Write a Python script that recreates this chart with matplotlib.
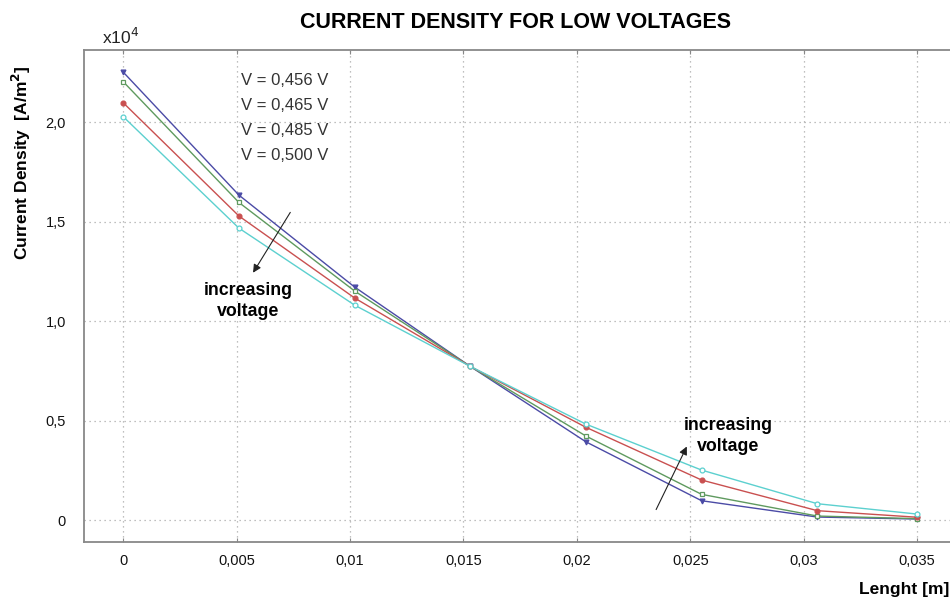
import numpy as np
import matplotlib
matplotlib.use("Agg")
import matplotlib.pyplot as plt

plt.rcParams['font.family'] = ['Liberation Sans', 'DejaVu Sans']

# distance along the channel [m]
length_m = [0, 0.0051, 0.0102, 0.0153, 0.0204, 0.0255, 0.0306, 0.035]

# current density in units of 1e4 A/m^2
j_0456 = [2.251, 1.633, 1.171, 0.772, 0.393, 0.097, 0.015, 0.005]
j_0465 = [2.203, 1.596, 1.151, 0.772, 0.422, 0.129, 0.020, 0.007]
j_0485 = [2.097, 1.528, 1.116, 0.772, 0.466, 0.201, 0.047, 0.014]
j_0500 = [2.027, 1.467, 1.080, 0.772, 0.482, 0.251, 0.082, 0.030]

voltage_labels = ['V = 0,456 V', 'V = 0,465 V', 'V = 0,485 V', 'V = 0,500 V']

x_ticks = [0, 0.005, 0.01, 0.015, 0.02, 0.025, 0.03, 0.035]
x_ticklabels = ['0', '0,005', '0,01', '0,015', '0,02', '0,025', '0,03', '0,035']
y_ticks = [0, 0.5, 1.0, 1.5, 2.0]
y_ticklabels = ['0', '0,5', '1,0', '1,5', '2,0']

fig = plt.figure(figsize=(9.5, 5.97), dpi=100)
ax = fig.add_axes([0.0884, 0.0926, 0.9116, 0.8236])

styles = [
    (j_0456, '#4b4ba6', 'v', True),
    (j_0465, '#5f9a5f', 's', False),
    (j_0485, '#c95050', 'o', True),
    (j_0500, '#5cd0cf', 'o', False),
]
for vals, col, mk, filled in styles:
    ax.plot(length_m, vals, color=col, lw=1.0, marker=mk, ms=3.5,
            mfc=col if filled else 'white', mec=col, mew=0.9)

ax.set_xlim(-0.00173, 0.03645)
ax.set_ylim(-0.109, 2.362)
ax.set_xticks(x_ticks)
ax.set_xticklabels(x_ticklabels)
ax.set_yticks(y_ticks)
ax.set_yticklabels(y_ticklabels)
ax.tick_params(axis='both', labelsize=10.5, colors='#111111', length=3,
               direction='in', top=True)
ax.tick_params(axis='x', color='#888888', pad=9)
ax.tick_params(axis='y', length=0, pad=13)

ax.grid(True, ls=(0, (1, 3)), color='#aaaaaa', lw=0.9)
for side in ['left', 'bottom', 'top']:
    ax.spines[side].set_color('#888888')
    ax.spines[side].set_linewidth(1.3)
ax.spines['right'].set_visible(False)

fig.text(0.543, 0.963, 'CURRENT DENSITY FOR LOW VOLTAGES', ha='center',
         va='center', fontsize=15.5, fontweight='bold')
fig.text(0.127, 0.938, 'x10$^4$', ha='center', va='center', fontsize=12.5,
         color='#222222')
fig.text(0.023, 0.727, 'Current Density  [A/m$^\\mathbf{2}$]', rotation=90,
         ha='center', va='center', fontsize=12.5, fontweight='bold')
fig.text(0.999, 0.0, 'Lenght [m]', ha='right', va='bottom', fontsize=12.5,
         fontweight='bold')

for i, lab in enumerate(voltage_labels):
    ax.text(0.00713, 2.211 - i * 0.1256, lab, ha='center', va='center',
            fontsize=12, color='#333333')

ax.annotate('', xy=(0.00566, 1.231), xytext=(0.00743, 1.558),
            arrowprops=dict(arrowstyle='-|>', color='#222222', lw=0.8,
                            mutation_scale=12))
ax.text(0.0055, 1.10, 'increasing\nvoltage', ha='center', va='center',
        fontsize=12.8, fontweight='bold', linespacing=1.3)

ax.annotate('', xy=(0.0249, 0.382), xytext=(0.02344, 0.040),
            arrowprops=dict(arrowstyle='-|>', color='#222222', lw=0.8,
                            mutation_scale=12))
ax.text(0.02666, 0.422, 'increasing\nvoltage', ha='center', va='center',
        fontsize=12.8, fontweight='bold', linespacing=1.3)

fig.savefig('out.png', dpi=100)
